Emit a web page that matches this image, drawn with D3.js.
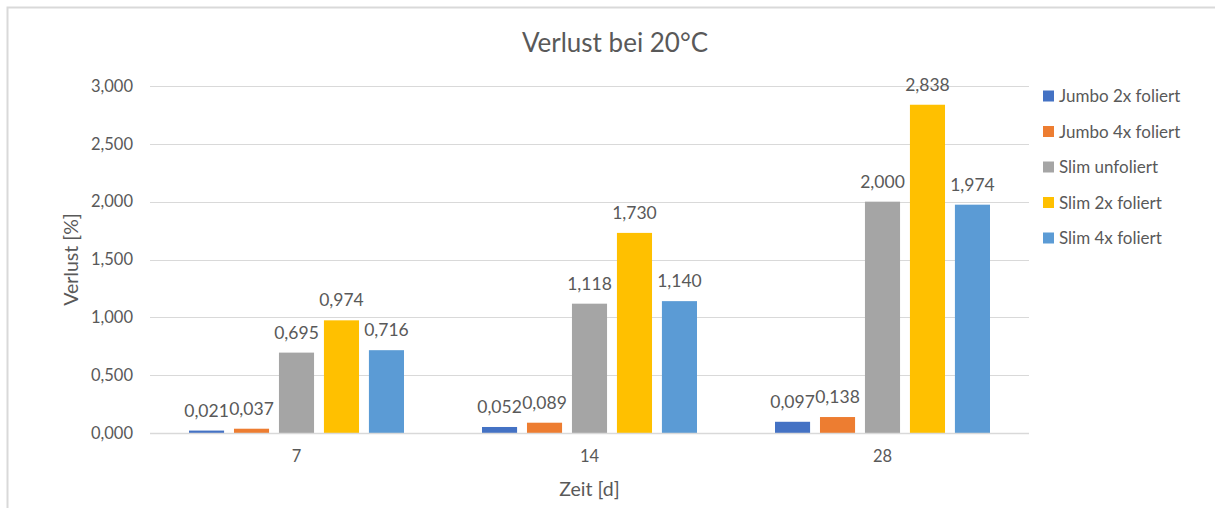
<!DOCTYPE html>
<html>
<head>
<meta charset="utf-8">
<script src="https://cdn.jsdelivr.net/npm/d3@7"></script>
<style>
  body { margin: 0; background: #fff; }
  text { font-family: Lato, "Open Sans", sans-serif; fill: #595959; }
</style>
</head>
<body>
<div id="chart"></div>
<script>
// Data
var categories   = ["7", "14", "28"];
var seriesNames  = ["Jumbo 2x foliert", "Jumbo 4x foliert", "Slim unfoliert", "Slim 2x foliert", "Slim 4x foliert"];
var jumbo2x      = [0.021, 0.052, 0.097];
var jumbo4x      = [0.037, 0.089, 0.138];
var slimUnfol    = [0.695, 1.118, 2.000];
var slim2x       = [0.974, 1.730, 2.838];
var slim4x       = [0.716, 1.140, 1.974];
var yTicks       = [0, 0.5, 1, 1.5, 2, 2.5, 3];

var seriesValues = [jumbo2x, jumbo4x, slimUnfol, slim2x, slim4x];
var colors       = ["#4472C4", "#ED7D31", "#A5A5A5", "#FFC000", "#5B9BD5"];

// Width and height
var chart_width  = 1215;
var chart_height = 508;
var plot = { left: 150, right: 1029, top: 86, bottom: 433 };

var fmt = function(v) { return d3.format(".3f")(v).replace(".", ","); };

var svg = d3.select("#chart")
    .append("svg")
    .attr("width", chart_width)
    .attr("height", chart_height);

// chart frame (cropped at right and bottom)
svg.append("rect")
    .attr("x", 7.5).attr("y", 7.5)
    .attr("width", 1300).attr("height", 600)
    .style("fill", "none")
    .style("stroke", "#D9D9D9")
    .style("stroke-width", 2);

// Scales
var x0 = d3.scaleBand()
    .domain(categories)
    .range([plot.left, plot.right]);

var groupPad = 39;
var x1 = d3.scaleBand()
    .domain(seriesNames)
    .range([groupPad, x0.bandwidth() - groupPad])
    .paddingInner(0.22);

var y = d3.scaleLinear()
    .domain([0, 3])
    .range([plot.bottom, plot.top]);

// gridlines
svg.append("g")
    .selectAll("line")
    .data(yTicks)
    .enter()
    .append("line")
    .attr("x1", plot.left).attr("x2", plot.right)
    .attr("y1", d => Math.round(y(d)) + 0.5)
    .attr("y2", d => Math.round(y(d)) + 0.5)
    .style("stroke", "#D9D9D9")
    .style("stroke-width", 1);

// y axis labels
var yAxis = svg.append("g")
    .attr("transform", "translate(" + plot.left + ",0)")
    .call(d3.axisLeft(y).tickValues(yTicks).tickFormat(fmt).tickSize(0).tickPadding(17));
yAxis.select(".domain").remove();
yAxis.selectAll("text")
    .style("font-size", "16.5px")
    .style("fill", "#595959")
    .style("font-family", "Lato, 'Open Sans', sans-serif");

// x axis labels
var xAxis = svg.append("g")
    .attr("transform", "translate(0," + plot.bottom + ")")
    .call(d3.axisBottom(x0).tickSize(0).tickPadding(17));
xAxis.select(".domain").remove();
xAxis.selectAll("text")
    .style("font-size", "16.5px")
    .style("fill", "#595959")
    .style("font-family", "Lato, 'Open Sans', sans-serif");

// Bars
var groups = svg.selectAll("g.series")
    .data(seriesNames)
    .enter()
    .append("g")
    .attr("class", "series");

groups.each(function(name, si) {
    var g = d3.select(this);
    var vals = seriesValues[si];
    g.selectAll("rect")
        .data(vals)
        .enter()
        .append("rect")
        .attr("x", (d, ci) => x0(categories[ci]) + x1(name))
        .attr("y", d => y(d))
        .attr("width", x1.bandwidth())
        .attr("height", d => y(0) - y(d))
        .style("fill", colors[si]);

    g.selectAll("text")
        .data(vals)
        .enter()
        .append("text")
        .attr("x", (d, ci) => x0(categories[ci]) + x1(name) + x1.bandwidth() / 2)
        .attr("y", d => y(d) - 14)
        .attr("text-anchor", "middle")
        .style("font-size", "17.5px")
        .text(fmt);
});

// baseline
svg.append("line")
    .attr("x1", plot.left).attr("x2", plot.right)
    .attr("y1", plot.bottom + 0.5).attr("y2", plot.bottom + 0.5)
    .style("stroke", "#D9D9D9")
    .style("stroke-width", 1.5);

// Title
svg.append("text")
    .attr("x", 615).attr("y", 52)
    .attr("text-anchor", "middle")
    .style("font-size", "26px")
    .text("Verlust bei 20°C");

// Axis titles
svg.append("text")
    .attr("transform", "translate(78," + ((plot.top + plot.bottom) / 2) + ") rotate(-90)")
    .attr("text-anchor", "middle")
    .style("font-size", "19.5px")
    .text("Verlust [%]");

svg.append("text")
    .attr("x", (plot.left + plot.right) / 2).attr("y", 496)
    .attr("text-anchor", "middle")
    .style("font-size", "19.5px")
    .text("Zeit [d]");

// Legend
var legend = svg.selectAll("g.legend")
    .data(seriesNames)
    .enter()
    .append("g")
    .attr("class", "legend")
    .attr("transform", (d, i) => "translate(1043," + (96 + i * 35.5) + ")");

legend.append("rect")
    .attr("x", 0).attr("y", -5.5)
    .attr("width", 11).attr("height", 11)
    .style("fill", (d, i) => colors[i]);

legend.append("text")
    .attr("x", 16).attr("y", 6)
    .style("font-size", "17px")
    .text(d => d);
</script>
</body>
</html>
